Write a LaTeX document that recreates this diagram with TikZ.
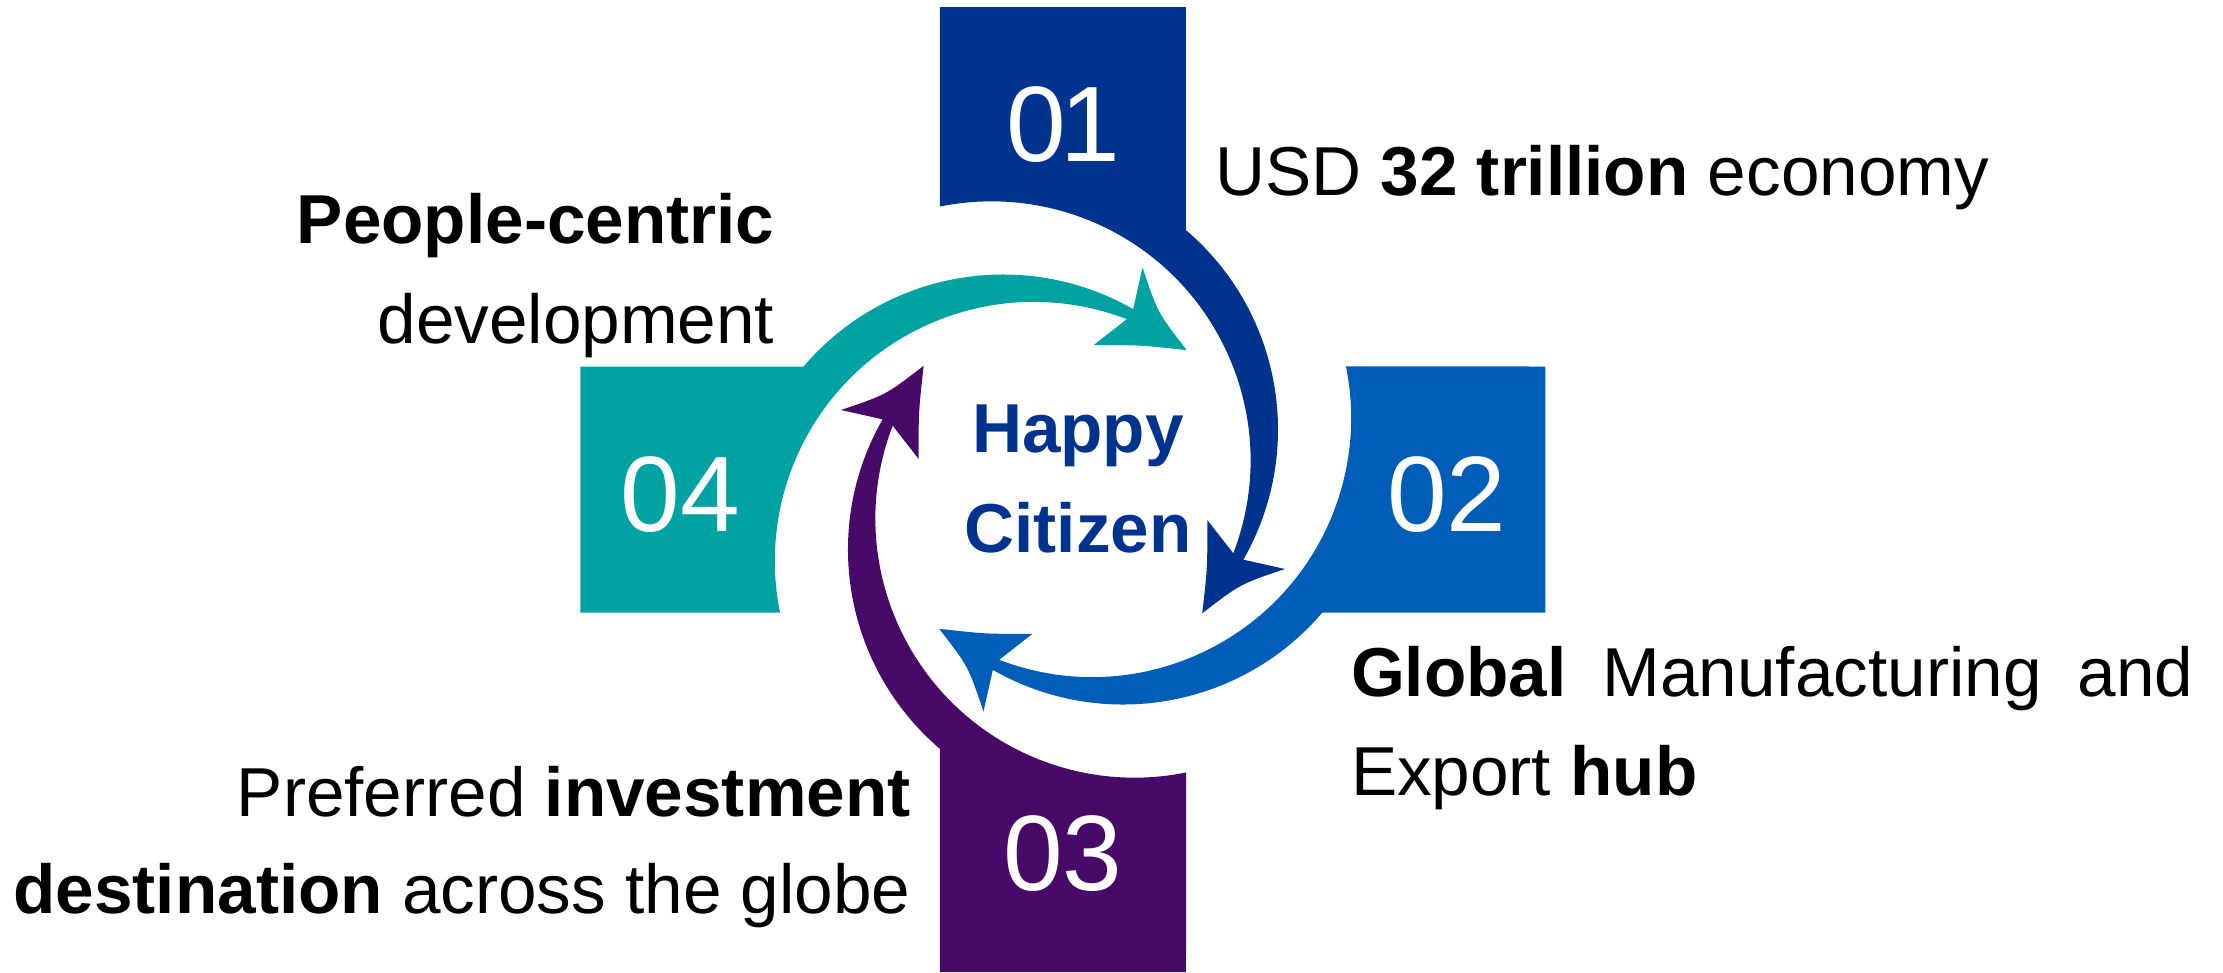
\documentclass[tikz,border=0pt]{standalone}
\usepackage{fontspec}
\setmainfont{Liberation Sans}
\definecolor{cA}{HTML}{00338D}
\definecolor{cB}{HTML}{005EB8}
\definecolor{cC}{HTML}{470A68}
\definecolor{cD}{HTML}{00A3A1}
\begin{document}
\begin{tikzpicture}[x=0.01cm,y=-0.01cm,
  txt/.style={inner sep=0pt, font=\fontsize{19.7pt}{28pt}\selectfont},
  num/.style={inner sep=0pt, text=white, font=\fontsize{30.5pt}{36pt}\selectfont},
  hub/.style={inner sep=0pt, text=cA, font=\fontsize{19.7pt}{28pt}\selectfont\bfseries}]
\useasboundingbox (-1063,-489.5) rectangle (1160,482.5);
% four circular arrows, each rotated 90 degrees about the centre
\foreach \k/\col in {0/cA,1/cB,2/cC,3/cD}{
  \fill[\col, rotate=-90*\k]
    (-123,-482.5) -- (123,-482.5) -- (123,-259.4)
    arc[start angle=-49.55, end angle=29.8, radius=262]
    -- (222,79.5) .. controls (176.9,94.7) .. (139.3,123.8)
    .. controls (144.5,77.2) .. (144.3,30.5)
    -- (170.3,63.8)
    arc[start angle=21.04, end angle=-101.5, radius=259]
    -- cycle;
}
% numbers
\node[num, anchor=base] (n1) at (0.5,-327.8) {0\kern-0.06cm 1};
\node[num, anchor=base] (n2) at (383.8,42) {02};
\node[num, anchor=base] (n3) at (0,400.5) {03};
\node[num, anchor=base] (n4) at (-382.5,42) {04};
% centre
\node[hub, anchor=base] (h1) at (15,-36.8) {Happy};
\node[hub, anchor=base] (h2) at (15,62.5) {Citizen};
% texts
\node[txt, anchor=base west] (t1) at (151.5,-294.5) {USD \textbf{32 trillion} economy};
\node[txt, anchor=base west] (t2a) at (287.3,207.2) {\makebox[8.42cm][s]{\textbf{Global} Manufacturing and}};
\node[txt, anchor=base west] (t2b) at (287.3,306.2) {Export \textbf{hub}};
\node[txt, anchor=base east] (t3a) at (-151.7,327.2) {Preferred \textbf{investment}};
\node[txt, anchor=base east] (t3b) at (-151.7,424) {\textbf{destination} across the globe};
\node[txt, anchor=base east] (t4a) at (-288,-246) {\textbf{People-centric}};
\node[txt, anchor=base east] (t4b) at (-288,-146.2) {development};
\end{tikzpicture}
\end{document}
